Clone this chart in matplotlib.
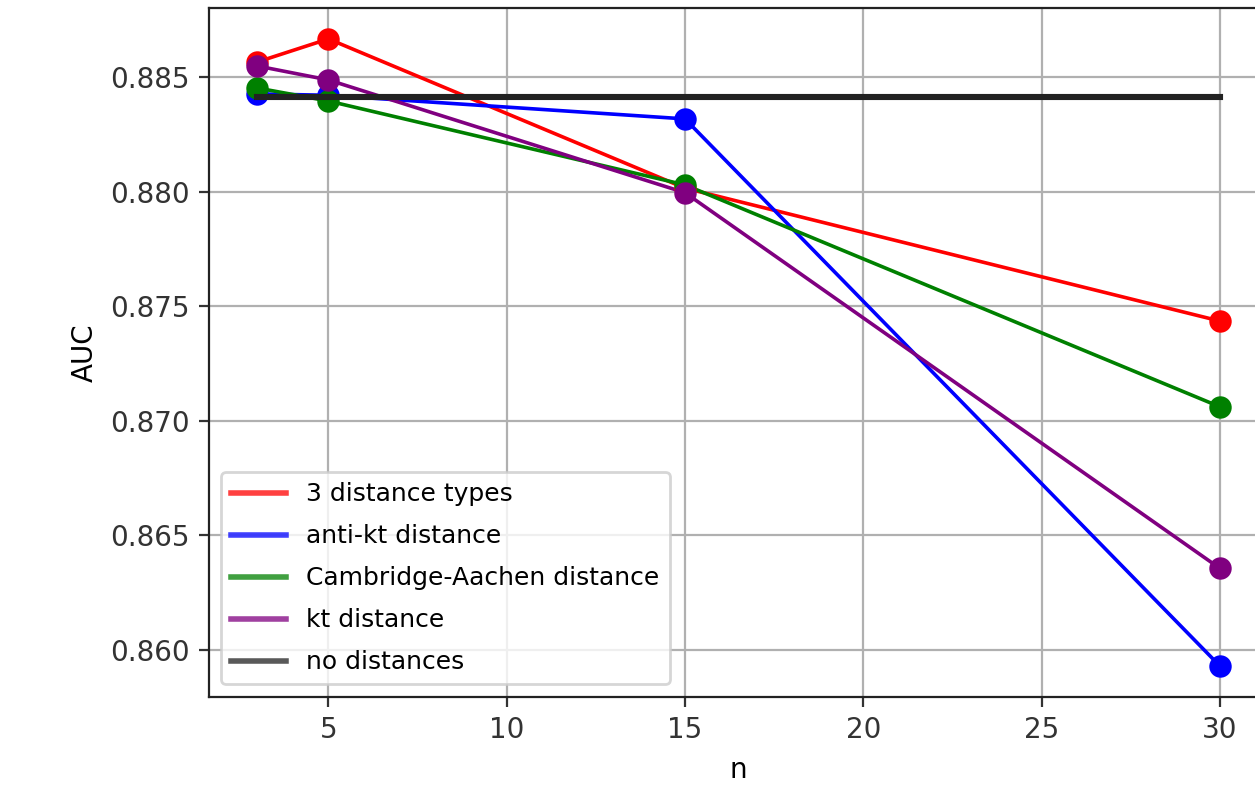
import numpy as np
import matplotlib.pyplot as plt

n_values = [3, 5, 15, 30]

auc_three = [0.88565, 0.88666, 0.88015, 0.87435]
auc_antikt = [0.88426, 0.88420, 0.88317, 0.85930]
auc_ca = [0.88452, 0.88395, 0.88029, 0.87061]
auc_kt = [0.88548, 0.88487, 0.87995, 0.86356]
auc_none = [0.88413, 0.88413]
n_none = [3, 30]

series = [
    ('3 distance types', auc_three, 'red'),
    ('anti-kt distance', auc_antikt, 'blue'),
    ('Cambridge-Aachen distance', auc_ca, 'green'),
    ('kt distance', auc_kt, 'purple'),
]

fig = plt.figure(figsize=(6.275, 3.98), dpi=200)
ax = fig.add_axes([0.1665, 0.1244, 0.8439, 0.8656])

for label, vals, col in series:
    ax.plot(n_values, vals, color=col, lw=1.3, label=label)
    ax.scatter(n_values, vals, color=col, s=50, zorder=3)
ax.plot(n_none, auc_none, color='#222222', lw=2.2, label='no distances', zorder=4)

ax.set_xticks([5, 10, 15, 20, 25, 30])
ax.set_yticks([0.860, 0.865, 0.870, 0.875, 0.880, 0.885])
ax.set_ylim(0.85795, 0.88801)
ax.tick_params(labelsize=10, colors='#333333')
ax.set_xlabel('n', fontsize=10)
ax.set_ylabel('AUC', fontsize=10)
ax.grid(True, color='#b0b0b0', lw=0.8)
for s in ax.spines.values():
    s.set_color('#222222')

leg = ax.legend(loc='lower left', fontsize=9, handlelength=2.2, labelspacing=0.72,
                framealpha=0.8)
for h in leg.get_lines():
    h.set_linewidth(2.0)
    h.set_alpha(0.75)

fig.savefig('out.png', dpi=200)
